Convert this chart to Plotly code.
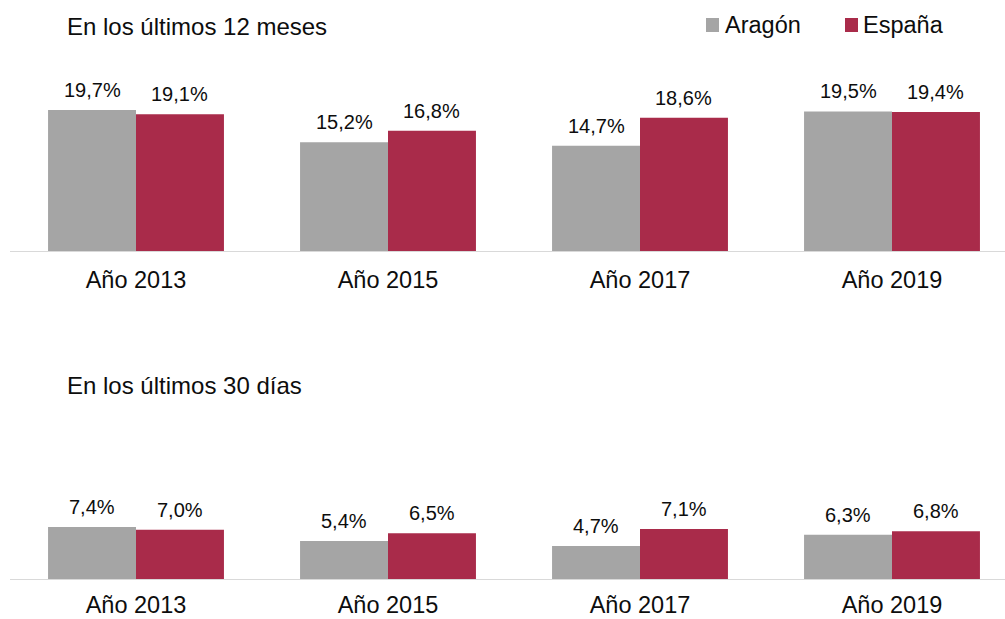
import plotly.graph_objects as go
from plotly.subplots import make_subplots

categories = ["Año 2013", "Año 2015", "Año 2017", "Año 2019"]
aragon_12m = [19.7, 15.2, 14.7, 19.5]
espana_12m = [19.1, 16.8, 18.6, 19.4]
aragon_30d = [7.4, 5.4, 4.7, 6.3]
espana_30d = [7.0, 6.5, 7.1, 6.8]
series_names = ["Aragón", "España"]
panel_titles = ["En los últimos 12 meses", "En los últimos 30 días"]

GRAY = "#A5A5A5"
RED = "#A92B4A"
FONT = "Liberation Sans, Arial, sans-serif"
TXT = "#0d0d0d"

W, H = 1005, 619
ML = 10
PW = W - ML
BARGAP = 0.302
xs = list(range(len(categories)))
half = (1 - BARGAP) / 4  # offset of each bar centre from the category centre

def px(xpix):
    return (xpix - ML) / PW

def py(ypix):
    return 1 - ypix / H

fig = make_subplots(rows=2, cols=1)

panels = [(aragon_12m, espana_12m, 1), (aragon_30d, espana_30d, 2)]
for a_vals, e_vals, row in panels:
    fig.add_trace(go.Bar(x=xs, y=a_vals, name=series_names[0], marker_color=GRAY,
                         marker_line_width=0, showlegend=False), row=row, col=1)
    fig.add_trace(go.Bar(x=xs, y=e_vals, name=series_names[1], marker_color=RED,
                         marker_line_width=0, showlegend=False), row=row, col=1)

annotations = []
def fmt(v):
    return f"{v:.1f}".replace(".", ",") + "%"

for (a_vals, e_vals, row) in panels:
    xr = "x" if row == 1 else "x2"
    yr = "y" if row == 1 else "y2"
    for i, (a, e) in enumerate(zip(a_vals, e_vals)):
        for xv, v in ((i - half, a), (i + half, e)):
            annotations.append(dict(x=xv, y=v, xref=xr, yref=yr, text=fmt(v),
                                    showarrow=False, yanchor="bottom", xanchor="center",
                                    yshift=7, font=dict(family=FONT, size=20, color=TXT)))

annotations.append(dict(x=px(65), y=py(27), xref="paper", yref="paper",
                        text=panel_titles[0], showarrow=False, xanchor="left",
                        yanchor="middle", font=dict(family=FONT, size=24, color=TXT)))
annotations.append(dict(x=px(65), y=py(385), xref="paper", yref="paper",
                        text=panel_titles[1], showarrow=False, xanchor="left",
                        yanchor="middle", font=dict(family=FONT, size=24, color=TXT)))

# legend (manual, to match icon/text spacing)
shapes = []
legend_items = [(series_names[0], GRAY, 706, 723), (series_names[1], RED, 845, 861)]
for name, col, sx, tx in legend_items:
    shapes.append(dict(type="rect", xref="paper", yref="paper",
                       x0=px(sx), x1=px(sx + 13), y0=py(32), y1=py(18),
                       fillcolor=col, line=dict(width=0)))
    annotations.append(dict(x=px(tx), y=py(25), xref="paper", yref="paper",
                            text=name, showarrow=False, xanchor="left", yanchor="middle",
                            font=dict(family=FONT, size=23.5, color=TXT)))

xaxis_common = dict(range=[-0.5, -0.5 + PW / 252], tickmode="array", tickvals=xs,
                    ticktext=categories, showline=True, linecolor="#D9D9D9", linewidth=1,
                    showgrid=False, zeroline=False, ticks="outside",
                    tickcolor="rgba(0,0,0,0)", tickfont=dict(family=FONT, size=23.5, color=TXT),
                    fixedrange=True, automargin=False)
yaxis_common = dict(range=[0, 25], visible=False, showgrid=False, zeroline=False,
                    fixedrange=True, automargin=False)

fig.update_layout(
    width=W, height=H,
    margin=dict(l=ML, r=0, t=0, b=0, autoexpand=False),
    paper_bgcolor="white", plot_bgcolor="white",
    barmode="group", bargap=BARGAP, bargroupgap=0,
    showlegend=False,
    xaxis=dict(domain=[0, 1], anchor="y", ticklen=8, **xaxis_common),
    xaxis2=dict(domain=[0, 1], anchor="y2", ticklen=5, **xaxis_common),
    yaxis=dict(domain=[py(251), py(72)], anchor="x", **yaxis_common),
    yaxis2=dict(domain=[py(579), py(403.25)], anchor="x2", **yaxis_common),
    annotations=annotations,
    shapes=shapes,
    font=dict(family=FONT, color=TXT),
    hovermode=False,
)

fig.write_html("out.html", config={"displayModeBar": False},
               post_script="document.body.style.margin='0';document.body.style.overflow='hidden';")
